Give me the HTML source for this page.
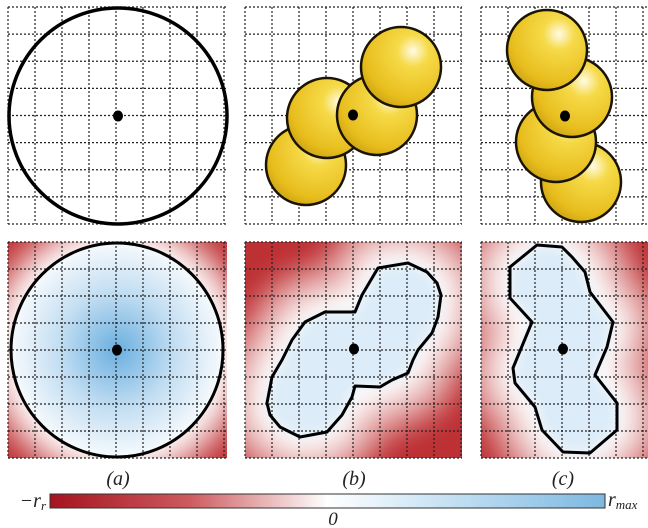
<!DOCTYPE html>
<html><head><meta charset="utf-8">
<style>
html,body{margin:0;padding:0;background:#fff;}
svg{display:block;}
text{font-family:"Liberation Serif",serif;font-style:italic;fill:#222;}
</style></head>
<body>
<svg id="fig" width="648" height="528" viewBox="0 0 648 528" xmlns="http://www.w3.org/2000/svg">
<defs>
  <filter id="blur12" x="-50%" y="-50%" width="200%" height="200%"><feGaussianBlur stdDeviation="14"/></filter>
  <filter id="blur6" x="-50%" y="-50%" width="200%" height="200%"><feGaussianBlur stdDeviation="6"/></filter>
  <radialGradient id="sphereGrad" cx="0.65" cy="0.3" r="0.8">
    <stop offset="0" stop-color="#fffbe6"/>
    <stop offset="0.25" stop-color="#f6da48"/>
    <stop offset="0.75" stop-color="#e8be1e"/>
    <stop offset="1" stop-color="#c89e12"/>
  </radialGradient>
  <radialGradient id="blueA" cx="0.5" cy="0.5" r="0.5">
    <stop offset="0" stop-color="#6aafdf"/>
    <stop offset="0.55" stop-color="#c3def2"/>
    <stop offset="1" stop-color="#f6fafd"/>
  </radialGradient>
  <linearGradient id="cbGrad" x1="0" x2="1" y1="0" y2="0">
    <stop offset="0" stop-color="#a5141e"/>
    <stop offset="0.25" stop-color="#cc5a5e"/>
    <stop offset="0.5" stop-color="#ffffff"/>
    <stop offset="0.75" stop-color="#bcdcf1"/>
    <stop offset="1" stop-color="#7db8e0"/>
  </linearGradient>
  <clipPath id="clipA2"><rect x="8" y="242" width="219" height="216"/></clipPath>
  <clipPath id="clipB2"><rect x="245" y="242" width="217" height="216"/></clipPath>
  <clipPath id="clipC2"><rect x="481" y="242" width="167" height="216"/></clipPath>
</defs>
<g id="layer"></g>
</svg>
<script>
// panel frames [x0, y0, x1, y1]
const panelsTop = [[8,7,227,224],[245,7,462,224],[481,7,648,224]];
const panelsBot = [[8,242,227,458],[245,242,462,458],[481,242,648,458]];
const gridStep = 27;
const centersTop = [[118,116],[353,115],[565,116]];
const centersBot = [[117,350],[354,349],[563,349]];
// panel b spheres (drawing order), panel c spheres
const spheresB = [[306,165],[327,118],[377,115],[401,67]];
const spheresC = [[581,182],[556,142],[572,97],[547,50]];
const sphereR = 40;
const circleA = [118,116,109,108];
const circleA2 = [117,350,106,107];
const contourB = [[408,263],[427,272],[437,283],[441,295],[438,317],[432,333],[418,350],[413,360],[408,373],[392,380],[380,387],[355,386],[352,397],[342,415],[327,432],[300,437],[280,427],[270,415],[267,403],[272,377],[282,360],[292,340],[305,322],[325,312],[355,312],[362,295],[378,268]];
const contourC = [[537,245],[562,247],[572,257],[585,272],[590,292],[613,322],[607,347],[595,375],[617,403],[617,430],[590,453],[563,452],[542,430],[535,407],[515,383],[513,368],[532,322],[510,298],[510,267]];
const labels = ["(a)","(b)","(c)"];
const labelX = [118,354,563];

const NS = "http://www.w3.org/2000/svg";
const layer = document.getElementById('layer');
function mk(tag, attrs, parent){
  const e = document.createElementNS(NS, tag);
  for (const k in attrs) e.setAttribute(k, attrs[k]);
  (parent||layer).appendChild(e);
  return e;
}
function pts(a){return a.map(p=>p.join(',')).join(' ');}

function grid(p, name){
  const g = mk('g',{});
  
  
  for (let x=p[0]; x<=p[2]+1; x+=gridStep){
    mk('line',{x1:x,y1:p[1],x2:x,y2:p[3],stroke:'#222','stroke-width':1.2,'stroke-dasharray':'2,2'},g);
  }
  const h=(p[3]-p[1])/8;
  for (let i=0;i<=8;i++){
    const y=p[1]+i*h;
    mk('line',{x1:p[0],y1:y,x2:p[2],y2:y,stroke:'#222','stroke-width':1.2,'stroke-dasharray':'2,2'},g);
  }
}
function dot(c, name){
  const d = mk('ellipse',{cx:c[0],cy:c[1],rx:5,ry:5.5,fill:'#000'});
  
  
}

// ---- bottom heatmaps ----
const clips=['clipA2','clipB2','clipC2'];
panelsBot.forEach((p,i)=>{
  const g = mk('g',{'clip-path':'url(#'+clips[i]+')'});
  
  
  mk('rect',{x:p[0],y:p[1],width:p[2]-p[0],height:p[3]-p[1],fill:'#bd3034'},g);
  const fg = mk('g',{filter:'url(#blur12)'},g);
  if(i===0){
    mk('ellipse',{cx:circleA2[0],cy:circleA2[1],rx:circleA2[2]+30,ry:circleA2[3]+30,fill:'#e6a2a2'},fg);
    mk('ellipse',{cx:circleA2[0],cy:circleA2[1],rx:circleA2[2]+10,ry:circleA2[3]+10,fill:'#fff'},fg);
  } else {
    const c = i===1?contourB:contourC;
    mk('polygon',{points:pts(c),fill:'#e6a8a8',stroke:'#e6a8a8','stroke-width':95,'stroke-linejoin':'round'},fg);
    mk('polygon',{points:pts(c),fill:'#fff',stroke:'#fff','stroke-width':34,'stroke-linejoin':'round'},fg);
  }
  if(i===0){
    mk('ellipse',{cx:circleA2[0],cy:circleA2[1],rx:circleA2[2],ry:circleA2[3],fill:'url(#blueA)'},g);
  } else {
    const c = i===1?contourB:contourC;
    const bg = mk('g',{filter:'url(#blur6)'},g);
    mk('polygon',{points:pts(c),fill:'#dcecf8'},bg);
  }
});
grid(panelsBot[0],'grid-a-bottom');
grid(panelsBot[1],'grid-b-bottom');
grid(panelsBot[2],'grid-c-bottom');
{
  const e = mk('ellipse',{cx:circleA2[0],cy:circleA2[1],rx:circleA2[2],ry:circleA2[3],fill:'none',stroke:'#000','stroke-width':3});
  
  
  const b = mk('polygon',{points:pts(contourB),fill:'none',stroke:'#000','stroke-width':3,'stroke-linejoin':'round'});
  
  
  const c = mk('polygon',{points:pts(contourC),fill:'none',stroke:'#000','stroke-width':3,'stroke-linejoin':'round'});
  
  
}
centersBot.forEach((c,i)=>dot(c,'center-dot-bottom-'+'abc'[i]));

// ---- top row ----
grid(panelsTop[0],'grid-a-top');
grid(panelsTop[1],'grid-b-top');
grid(panelsTop[2],'grid-c-top');
{
  const e = mk('ellipse',{cx:circleA[0],cy:circleA[1],rx:circleA[2],ry:circleA[3],fill:'none',stroke:'#000','stroke-width':3.5});
  
  
}
spheresB.forEach((s,i)=>{
  const c = mk('circle',{cx:s[0],cy:s[1],r:sphereR,fill:'url(#sphereGrad)',stroke:'#1a1405','stroke-width':2.5});
  
  
});
spheresC.forEach((s,i)=>{
  const c = mk('circle',{cx:s[0],cy:s[1],r:sphereR,fill:'url(#sphereGrad)',stroke:'#1a1405','stroke-width':2.5});
  
  
});
centersTop.forEach((c,i)=>dot(c,'center-dot-top-'+'abc'[i]));

// ---- labels ----
labels.forEach((l,i)=>{
  const t = mk('text',{x:labelX[i],y:485,'font-size':20,'text-anchor':'middle'});
  t.textContent = l;
  
  
});

// ---- colorbar ----
{
  const r = mk('rect',{x:50,y:494,width:555,height:14,fill:'url(#cbGrad)',stroke:'#333','stroke-width':1});
  
  
  const t1 = mk('text',{x:46,y:507,'font-size':20,'text-anchor':'end'});
  t1.innerHTML = '\u2212r<tspan font-size="13" dy="3">r</tspan>';
  
  
  const t2 = mk('text',{x:608,y:506,'font-size':20});
  t2.innerHTML = 'r<tspan font-size="13" dy="3">max</tspan>';
  
  
  const t3 = mk('text',{x:333,y:525,'font-size':19,'text-anchor':'middle'});
  t3.textContent = '0';
  
  
}
</script>
</body></html>
